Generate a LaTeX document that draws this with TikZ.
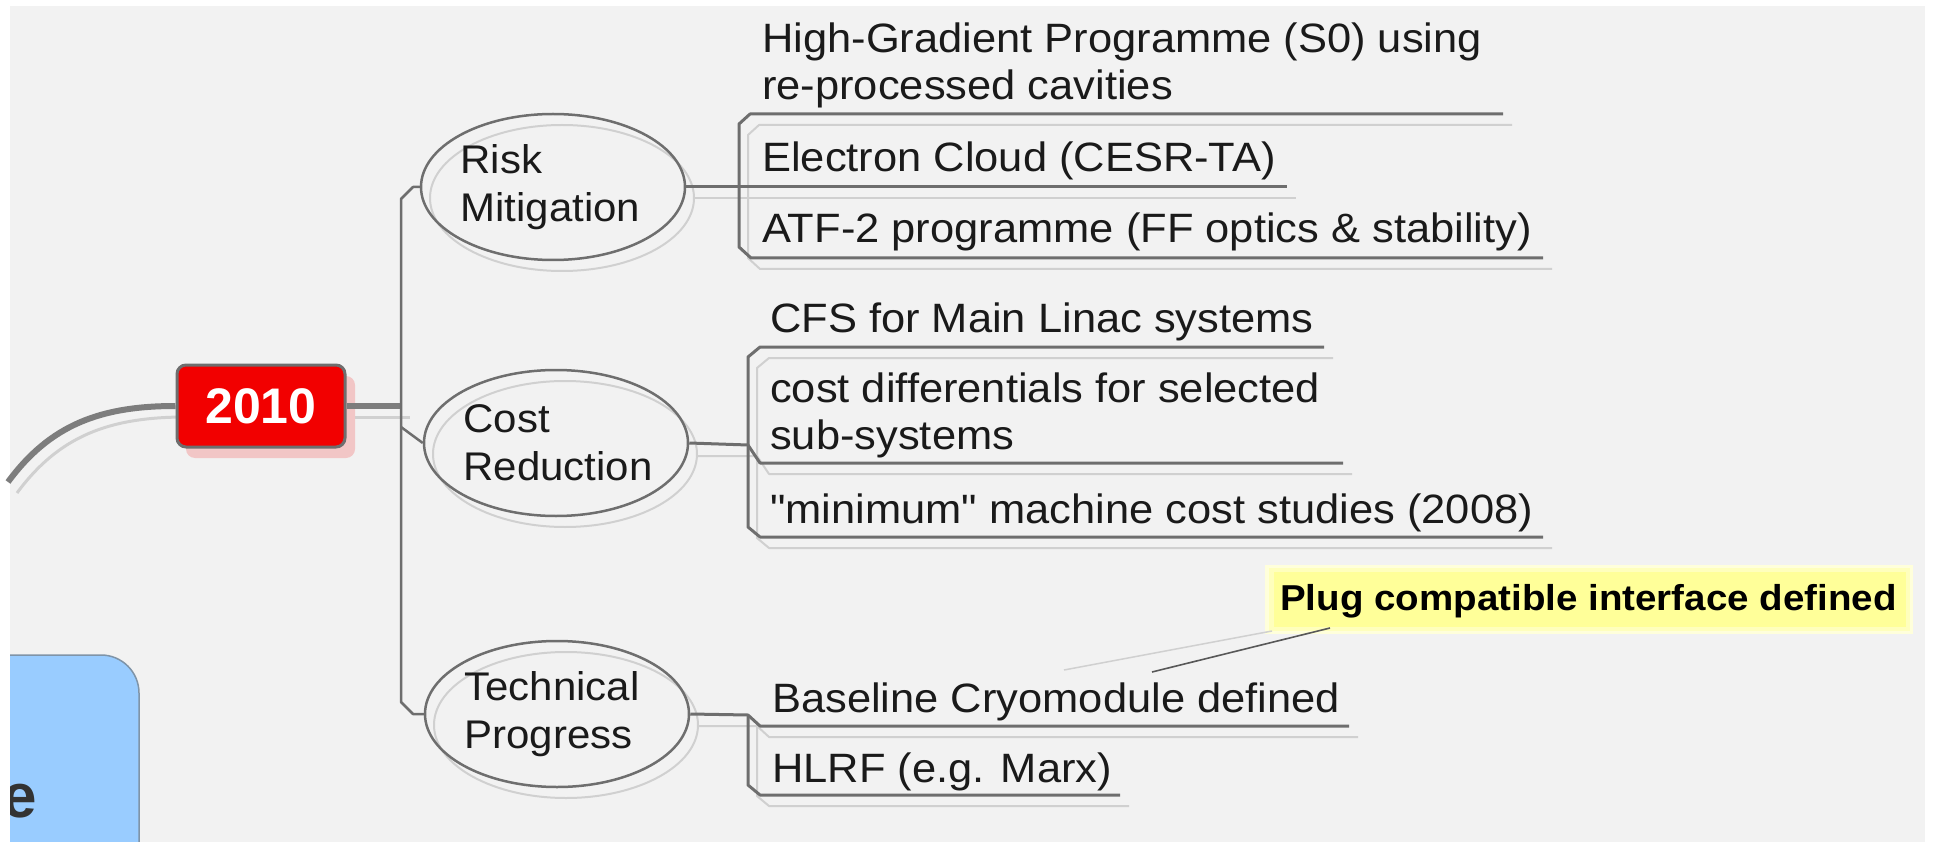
\documentclass[tikz,border=0pt]{standalone}
\usepackage{fontspec}
\setmainfont{Liberation Sans}
\newfontfamily\itemfont[FakeStretch=1.06]{Liberation Sans}
\newfontfamily\topicfont[FakeStretch=1.05]{Liberation Sans}
\newfontfamily\notefont[FakeStretch=1.07]{Liberation Sans}
\usetikzlibrary{shapes.geometric}
\definecolor{bg}{HTML}{F2F2F2}
\definecolor{ln}{HTML}{6E6E6E}
\definecolor{shd}{HTML}{D0D0D0}
\definecolor{txt}{HTML}{1A1A1A}
\definecolor{boxred}{HTML}{F20000}
\definecolor{pinkshd}{HTML}{F2C6C6}
\definecolor{bluebox}{HTML}{99CCFF}
\definecolor{hl}{HTML}{FFFF99}
\begin{document}
\begin{tikzpicture}[x=1pt,y=-1pt,
  topic/.style={ellipse, draw=ln, line width=2.5pt, minimum width=264pt, minimum height=146pt, inner sep=0pt, text width=185pt, align=left, text=txt, font=\topicfont\fontsize{40}{48}\selectfont},
  topicshadow/.style={ellipse, draw=shd, line width=2pt, minimum width=264pt, minimum height=146pt, inner sep=0pt},
  item/.style={anchor=base west, inner sep=0pt, text=txt, font=\itemfont\fontsize{41}{47}\selectfont},
  uline/.style={draw=ln, line width=3pt, line join=round},
  ushadow/.style={draw=shd, line width=2pt, line join=round},
  trunk/.style={draw=ln, line width=2.5pt, line join=round},
  thickline/.style={draw=ln!90, line width=6pt},
  thickshadow/.style={draw=shd, line width=3pt},
  yearbox/.style={rectangle, rounded corners=9pt, fill=boxred, draw=ln, line width=3pt, minimum width=168pt, minimum height=82pt, text=white, font=\bfseries\fontsize{50}{56}\selectfont},
  note/.style={anchor=base west, inner sep=0pt, text=black, font=\notefont\bfseries\fontsize{36}{42}\selectfont}
]
\useasboundingbox (0,0) rectangle (1935,842);
\fill[white] (0,0) rectangle (1935,842);
\fill[bg] (10,6) rectangle (1925,842);

% blue box at lower left
\begin{scope}
  \clip (10,6) rectangle (1925,842);
  \draw[fill=bluebox, draw=ln!60!bluebox, line width=1.5pt, rounded corners=38pt] (-30,655) -- (139,655) -- (139,900) -- (-30,900) -- cycle;
  \node[anchor=base east, inner sep=0pt, text=black!80, font=\bfseries\fontsize{62}{70}\selectfont] (bluee) at (37,817) {e};
\end{scope}

% ---------- shadows ----------
\begin{scope}[shift={(9,11)}]
  \draw[thickshadow] (8,482) .. controls (50,425) and (100,406) .. (177,406);
  \draw[thickshadow] (345,406) -- (401,406);
  \node[topicshadow] (risksh) at (553,187) {};
  \node[topicshadow] (costsh) at (556,443) {};
  \node[topicshadow] (techsh) at (557,714) {};
  \draw[ushadow] (686,187) -- (1287,187);
  \draw[ushadow] (1503,114) -- (750,114) -- (739,124) -- (739,247) -- (751,258) -- (1543,258);
  \draw[ushadow] (1324,347) -- (760,347) -- (748,357) -- (748,527) -- (760,537) -- (1543,537);
  \draw[ushadow] (689,445) -- (748,445) -- (760,463) -- (1343,463);
  \draw[ushadow] (690,715) -- (748,715) -- (760,726) -- (1349,726);
  \draw[ushadow] (748,715) -- (748,785) -- (760,795) -- (1120,795);
\end{scope}
\fill[pinkshd, rounded corners=9pt] (186,376) rectangle (355,458);

% ---------- nodes ----------
\node[yearbox] (y2010) at (261,406) {2010};
\node[topic] (risk) at (553,187) {Risk\\Mitigation};
\node[topic] (cost) at (556,443) {Cost\\Reduction};
\node[topic] (tech) at (557,714) {Technical\\Progress};

\node[item] (hg) at (762,53) {\begin{tabular}[t]{@{}l@{}}High-Gradient Programme (S0) using\\re-processed cavities\end{tabular}};
\node[item] (ec) at (762,172) {Electron Cloud (CESR-TA)};
\node[item] (atf) at (762,243) {ATF-2 programme (FF optics \& stability)};

\node[item] (cfs) at (770,332) {CFS for Main Linac systems};
\node[item] (cd) at (770,402) {\begin{tabular}[t]{@{}l@{}}cost differentials for selected\\sub-systems\end{tabular}};
\node[item] (mm) at (770,523) {"minimum" machine cost studies (2008)};

\node[item] (bc) at (772,712) {Baseline Cryomodule defined};
\node[item] (hlrf) at (772,782) {HLRF (e.g. Marx)};

% callout
\fill[hl!35] (1265,565) rectangle (1913,634);
\fill[hl!65] (1269,568) rectangle (1910,631);
\fill[hl] (1274,572) rectangle (1906,627);
\node[note] (plug) at (1280,610) {Plug compatible interface defined};
\coordinate (calla) at (1330,628);
\coordinate (callb) at (1152,672);
\coordinate (callc) at (1272,631);
\coordinate (calld) at (1064,670);
\draw[shd, line width=1.5pt] (callc) -- (calld);
\draw[ln!80!black, line width=1.6pt] (calla) -- (callb);

% ---------- connectors ----------
\draw[thickline] (8,482) .. controls (50,425) and (100,406) .. (y2010.west);
\draw[thickline] (y2010.east) -- (401,406);
\draw[trunk] (risk.west) -- (413,187) -- (401,199) -- (401,702) -- (413,714) -- (tech.west);
\draw[trunk] (401,427) -- (cost.west);

\draw[uline] (risk.east) -- (739,187) -- (1287,187);
\draw[uline] (1503,114) -- (750,114) -- (739,124) -- (739,247) -- (751,258) -- (1543,258);

\draw[uline] (1324,347) -- (760,347) -- (748,357) -- (748,527) -- (760,537) -- (1543,537);
\draw[uline] (cost.east) -- (748,445) -- (760,463) -- (1343,463);

\draw[uline] (tech.east) -- (748,715) -- (760,726) -- (1349,726);
\draw[uline] (748,715) -- (748,785) -- (760,795) -- (1120,795);
\end{tikzpicture}
\end{document}
